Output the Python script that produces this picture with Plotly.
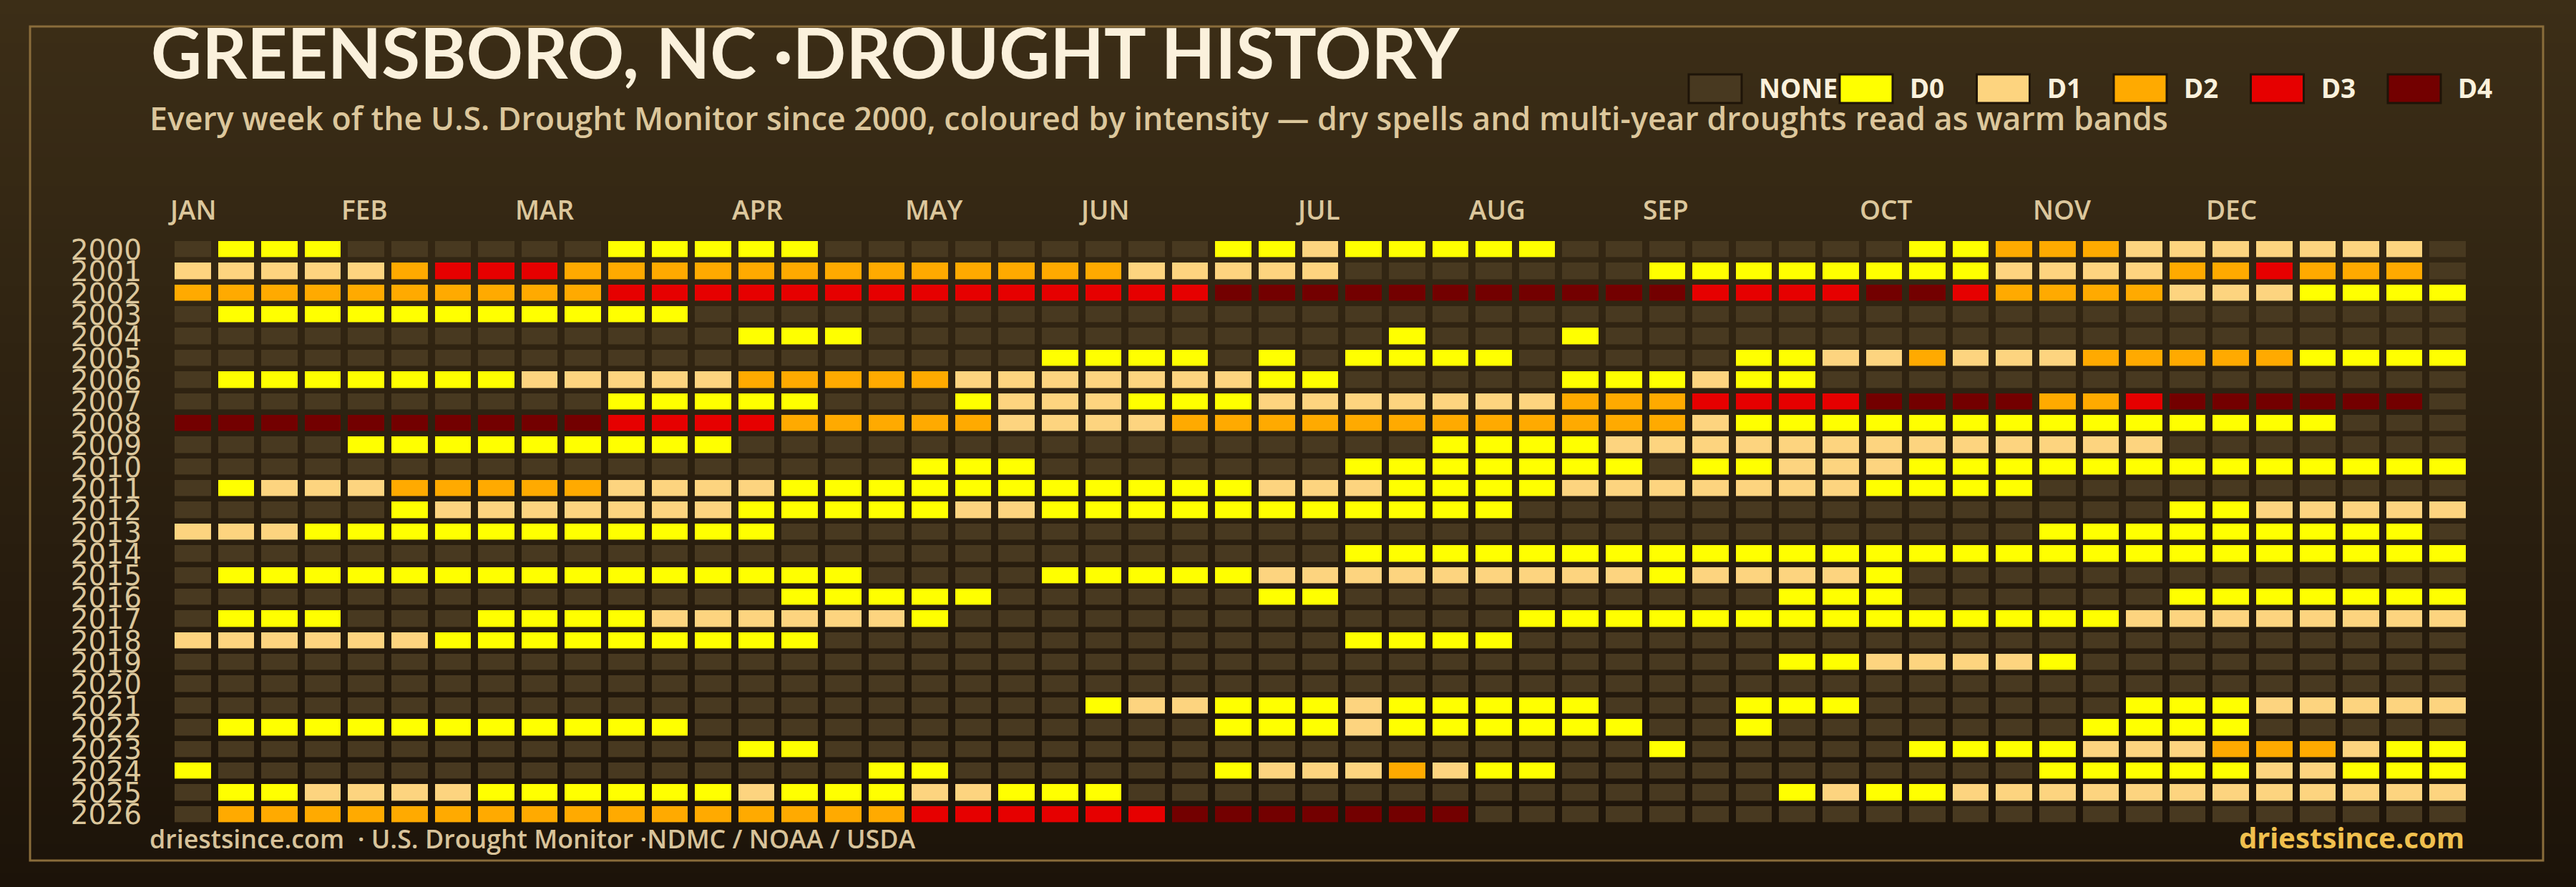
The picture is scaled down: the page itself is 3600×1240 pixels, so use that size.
import plotly.graph_objects as go

# ---------------- data ----------------
years = list(range(2000, 2027))
# one string per year, one character per USDM week: '-' none, '0'..'4' = D0..D4
week_rows = [
    "-000------00000---------00100000--------002221111111",
    "111112333222222222222211111-------000000001111223222-",
    "22222222223333333333333344444444444333344322221110000",
    "-00000000000-----------------------------------------",
    "-------------000------------0---0--------------------",
    "--------------------0000-0-0000-----00112111222220000",
    "-00000001111122222111111100-----000100---------------",
    "----------00000---0111000111111122233334444223444444-",
    "44444444443333222221111222222222222100000000000000---",
    "----000000000----------------00001111111111111-------",
    "-----------------000-------0000000-001110000000000000",
    "-011122222111100000000000111000011111110000----------",
    "-----01111111000001100000000000---------------0011111",
    "11100000000000-----------------------------000000000-",
    "---------------------------00000000000000000000000000",
    "-000000000000000----0000011111111101111 0-------------",
    "--------------00000------00----------000------0000000",
    "-000---0000111111 0-------------0000000000000011111111",
    "111111000000000------------0000----------------------",
    "-------------------------------------0011110---------",
    "-----------------------------------------------------",
    "---------------------011000100000---000------00011111",
    "-00000000000------------0001000000--0-------0000-----",
    "-------------00-------------------0-----0000111222100",
    "0---------------00------01112100-----------0000011000",
    "-0011110000001000110 00---------------01001111111111 11",
    "-22222222222222223333334444444-----------------------",
]
month_labels = ["JAN", "FEB", "MAR", "APR", "MAY", "JUN",
                "JUL", "AUG", "SEP", "OCT", "NOV", "DEC"]
month_weeks = [0, 4, 8, 13, 17, 21, 26, 30, 34, 39, 43, 47]
category_labels = ["NONE", "D0", "D1", "D2", "D3", "D4"]
category_codes = ["-", "0", "1", "2", "3", "4"]
category_colors = ["#483920", "#ffff00", "#fdd47f", "#ffaa00", "#e60000", "#730000"]

n_weeks = 53

# ---------------- layout geometry (pixels) ----------------
W, H = 3600, 1240
PL, PR, PT, PB = 239, 3451, 334, 1154


def px2x(px):
    return (px - PL) / (PR - PL)


def py2y(py):
    return (PB - py) / (PB - PT)


def clean(row):
    r = row.replace(" ", "")
    return (r + "-" * n_weeks)[:n_weeks]


z = [[category_codes.index(ch) for ch in clean(row)] for row in week_rows]

ncat = len(category_colors)
colorscale = []
for i, c in enumerate(category_colors):
    colorscale.append([i / ncat, c])
    colorscale.append([(i + 1) / ncat, c])

fig = go.Figure()
fig.add_trace(go.Heatmap(
    z=z, x=list(range(n_weeks)), y=years,
    colorscale=colorscale, zmin=-0.5, zmax=ncat - 0.5,
    showscale=False, xgap=10, ygap=7.6, hoverinfo="skip",
))

shapes = []
# vertical background gradient
top_rgb = (0x3c, 0x2e, 0x17)
bot_rgb = (0x1c, 0x13, 0x09)
nb = 62
for i in range(nb):
    t = (i + 0.5) / nb
    col = tuple(round(top_rgb[k] + (bot_rgb[k] - top_rgb[k]) * t) for k in range(3))
    y0p = H * i / nb
    y1p = H * (i + 1) / nb + 1
    shapes.append(dict(type="rect", xref="paper", yref="paper", layer="below",
                       x0=px2x(-5), x1=px2x(W + 5), y0=py2y(y1p), y1=py2y(y0p),
                       line=dict(width=0), fillcolor="rgb(%d,%d,%d)" % col))
# frame
shapes.append(dict(type="rect", xref="paper", yref="paper", layer="below",
                   x0=px2x(42), x1=px2x(3554), y0=py2y(1203), y1=py2y(37),
                   line=dict(color="#8a6d3b", width=3), fillcolor="rgba(0,0,0,0)"))

annotations = []
# title & subtitle
annotations.append(dict(text="<b>GREENSBORO, NC ·DROUGHT HISTORY</b>",
                        xref="paper", yref="paper", x=px2x(209), y=py2y(72),
                        xanchor="left", yanchor="middle", showarrow=False,
                        font=dict(family="Lato", size=98, color="#fbf1dc")))
annotations.append(dict(text="Every week of the U.S. Drought Monitor since 2000, coloured by intensity — "
                             "dry spells and multi-year droughts read as warm bands",
                        xref="paper", yref="paper", x=px2x(207), y=py2y(164),
                        xanchor="left", yanchor="middle", showarrow=False,
                        font=dict(family="Open Sans", size=44.7, weight=600, color="#dcc79c")))
# month labels
for lab, wk in zip(month_labels, month_weeks):
    annotations.append(dict(text=lab, xref="x", yref="paper", x=wk - 0.5, xshift=-6,
                            y=py2y(293), xanchor="left", yanchor="middle", showarrow=False,
                            font=dict(family="Open Sans", size=37, weight=600, color="#dcc79c")))
# legend
legend_x = [2360] + [2571 + 191.5 * i for i in range(len(category_labels) - 1)]
for lab, col, lx in zip(category_labels, category_colors, legend_x):
    shapes.append(dict(type="rect", xref="paper", yref="paper",
                       x0=px2x(lx), x1=px2x(lx + 74), y0=py2y(144), y1=py2y(104),
                       line=dict(color="#1e1408", width=3), fillcolor=col))
    annotations.append(dict(text="<b>%s</b>" % lab, xref="paper", yref="paper",
                            x=px2x(lx + 96), y=py2y(122), xanchor="left", yanchor="middle",
                            showarrow=False,
                            font=dict(family="Noto Sans", size=37, color="#fbf1dc")))
# footer
annotations.append(dict(text="driestsince.com \u00a0· U.S. Drought Monitor ·NDMC / NOAA / USDA",
                        xref="paper", yref="paper", x=px2x(207), y=py2y(1172),
                        xanchor="left", yanchor="middle", showarrow=False,
                        font=dict(family="Open Sans", size=35.8, weight=600, color="#d8c39a")))
annotations.append(dict(text="<b>driestsince.com</b>",
                        xref="paper", yref="paper", x=px2x(3446), y=py2y(1170),
                        xanchor="right", yanchor="middle", showarrow=False,
                        font=dict(family="Noto Sans", size=40, color="#f0c04e")))

fig.update_layout(
    width=W, height=H,
    margin=dict(l=PL, r=W - PR, t=PT, b=H - PB, pad=0),
    paper_bgcolor="#1c1309", plot_bgcolor="rgba(0,0,0,0)",
    xaxis=dict(range=[-0.5, n_weeks - 0.5], showticklabels=False, showgrid=False,
               zeroline=False, ticks="", fixedrange=True),
    yaxis=dict(range=[years[-1] + 0.5, years[0] - 0.5], tickvals=years,
               ticktext=[str(y) for y in years], showgrid=False, zeroline=False,
               ticks="", ticklabelstandoff=40,
               tickfont=dict(family="DejaVu Sans", size=39, color="#dcc79c")),
    shapes=shapes, annotations=annotations, showlegend=False,
)

fig.write_html("out.html")
